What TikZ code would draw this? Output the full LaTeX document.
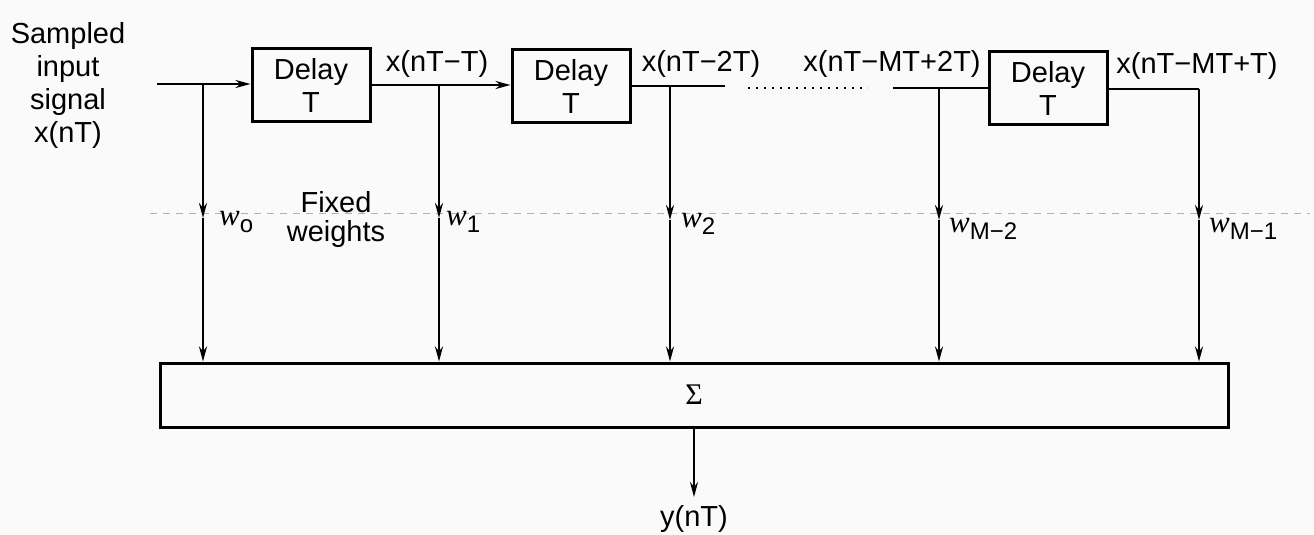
\documentclass[tikz,border=0pt]{standalone}
\usepackage{fontspec}
\setmainfont{Liberation Sans}
\newfontfamily\wfont{Liberation Serif}
\usetikzlibrary{arrows.meta}
\tikzset{
  delaybox/.style={draw, line width=3pt, minimum width=118pt, minimum height=73pt, align=center, inner sep=0pt, font=\fontsize{29}{33}\selectfont},
  sumbox/.style={draw, line width=3pt, minimum width=1068pt, minimum height=64pt, inner sep=0pt},
  lbl/.style={inner sep=0pt, font=\fontsize{29}{33}\selectfont, align=center},
  wire/.style={line width=2.3pt},
  arr/.style={wire, -{Stealth[length=15pt,width=8pt]}},
  dotline/.style={line width=2.2pt, dash pattern=on 2pt off 6pt},
  fixedline/.style={black!30, line width=1pt, dash pattern=on 7pt off 6pt},
}
\newcommand{\wt}[1]{{\fontsize{31}{31}\selectfont\wfont\itshape w}\raisebox{-7pt}{\fontsize{24}{24}\selectfont #1}}
\begin{document}
\begin{tikzpicture}[x=1pt,y=-1pt]
\fill[black!2] (0,0) rectangle (1314,535);
\useasboundingbox (0,0) rectangle (1314,535);

% faint dashed line of the fixed weights
\coordinate (fa) at (150,213);
\coordinate (fb) at (1310,213);
\draw[fixedline] (fa) -- (fb);

% input label
\node[lbl] (src) at (68,85) {Sampled\\input\\signal\\x(nT)};

% delay boxes
\node[delaybox] (d1) at (311,85) {Delay\\T};
\node[delaybox] (d2) at (571,86) {Delay\\T};
\node[delaybox] (d3) at (1048,88) {Delay\\T};

% summing box
\node[sumbox] (sum) at (694,395) {\fontsize{30}{30}\selectfont\wfont Σ};

% line coordinates
\coordinate (in) at (157,84);
\coordinate (t0) at (203,84);
\coordinate (t1) at (439,85);
\coordinate (t2) at (670,86);
\coordinate (e2) at (725,86);
\coordinate (da) at (748,88);
\coordinate (db) at (868,88);
\coordinate (s3) at (893,88);
\coordinate (tm2) at (939,88);
\coordinate (tm1) at (1199,89);

\coordinate (k0) at (203,218);
\coordinate (k1) at (439,218);
\coordinate (k2) at (670,220);
\coordinate (km2) at (939,220);
\coordinate (km1) at (1199,220);

% delay line
\draw[arr] (in) -- (d1.west |- in);
\draw[arr] (d1.east |- t1) -- (d2.west |- t1);
\draw[wire] (d2.east |- e2) -- (e2);
\draw[dotline] (da) -- (db);
\draw[wire] (s3) -- (d3.west |- s3);
\draw[wire] (d3.east |- tm1) -- (tm1);

% taps
\foreach \t in {0,1,2,m2,m1}{
  \draw[arr] (t\t) -- (k\t);
  \draw[arr] (k\t) -- (k\t |- sum.north);
}

% output
\coordinate (yout) at (694,497);
\draw[arr] (sum.south) -- (yout);
\node[lbl] (ylab) at (694,519) {y(nT)};

% signal labels
\node[lbl] (l1) at (437,64) {x(nT−T)};
\node[lbl] (l2) at (701,64) {x(nT−2T)};
\node[lbl] (l3) at (892,64) {x(nT−MT+2T)};
\node[lbl] (l4) at (1197,66) {x(nT−MT+T)};

% weights
\node[lbl, anchor=west] (w0) at (219,222) {\wt{o}};
\node[lbl, font=\fontsize{29}{29}\selectfont] (fx) at (336,219) {Fixed\\weights};
\node[lbl, anchor=west] (w1) at (446,222) {\wt{1}};
\node[lbl, anchor=west] (w2) at (681,224) {\wt{2}};
\node[lbl, anchor=west] (wm2) at (949,229) {\wt{M−2}};
\node[lbl, anchor=west] (wm1) at (1209,229) {\wt{M−1}};
\end{tikzpicture}
\end{document}
